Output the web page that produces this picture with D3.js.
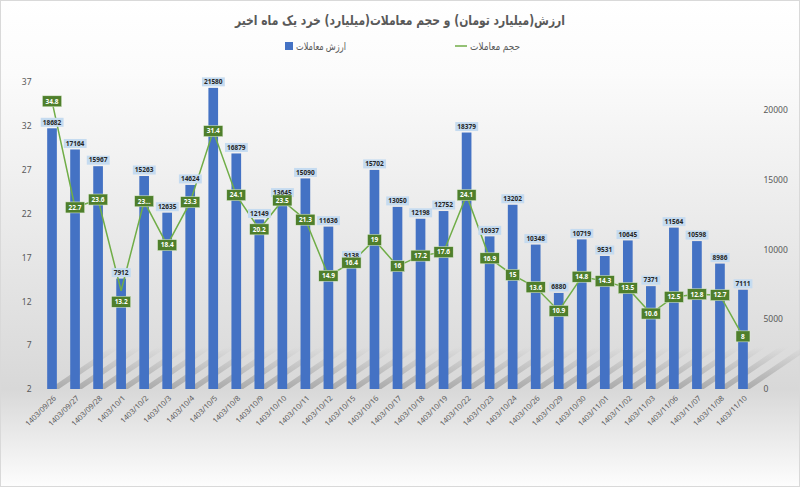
<!DOCTYPE html>
<html>
<head>
<meta charset="utf-8">
<script src="https://cdn.jsdelivr.net/npm/d3@7"></script>
<style>
  html, body { margin: 0; padding: 0; background: #fff; }
  svg { display: block; }
  text { font-family: 'Noto Sans', 'DejaVu Sans', sans-serif; }
</style>
</head>
<body>
<div id="chart"></div>
<script>
// categories (Jalali dates)
const dates = ['1403/09/26','1403/09/27','1403/09/28','1403/10/1','1403/10/2','1403/10/3','1403/10/4','1403/10/5',
  '1403/10/8','1403/10/9','1403/10/10','1403/10/11','1403/10/12','1403/10/15','1403/10/16','1403/10/17','1403/10/18',
  '1403/10/19','1403/10/22','1403/10/23','1403/10/24','1403/10/26','1403/10/29','1403/10/30','1403/11/01','1403/11/02',
  '1403/11/03','1403/11/06','1403/11/07','1403/11/08','1403/11/10'];

// ارزش معاملات (bars, right axis)
const tradeValue = [18682,17164,15967,7912,15263,12635,14624,21580,16879,12149,13645,15090,11636,9138,15702,13050,
  12198,12752,18379,10937,13202,10348,6880,10719,9531,10645,7371,11564,10598,8986,7111];

// حجم معاملات (line, left axis)
const tradeVolume = [34.8,22.7,23.6,13.2,23.4,18.4,23.3,31.4,24.1,20.2,23.5,21.3,14.9,16.4,19,16,17.2,17.6,24.1,
  16.9,15,13.6,10.9,14.8,14.3,13.5,10.6,12.5,12.8,12.7,8];

const leftTicks = [2,7,12,17,22,27,32,37];
const rightTicks = [0,5000,10000,15000,20000];

const titleText = 'ارزش(میلیارد تومان) و حجم معاملات(میلیارد) خرد یک ماه اخیر';
const barName = 'ارزش معاملات';
const lineName = 'حجم معاملات';

const W = 800, H = 487;
const plot = { left: 40.5, right: 754.5, top: 82, bottom: 389 };
const grey = '#595959';

const svg = d3.select('#chart').append('svg').attr('width', W).attr('height', H);
const defs = svg.append('defs');

const bg = defs.append('linearGradient').attr('id', 'bg').attr('x1', 0).attr('y1', 0).attr('x2', 0).attr('y2', 1);
bg.append('stop').attr('offset', '0%').attr('stop-color', '#ffffff');
bg.append('stop').attr('offset', '15%').attr('stop-color', '#fbfbfb');
bg.append('stop').attr('offset', '80%').attr('stop-color', '#d8d8d8');
bg.append('stop').attr('offset', '100%').attr('stop-color', '#fdfdfd');

const sh = defs.append('linearGradient').attr('id', 'shadow').attr('x1', 0).attr('y1', 1).attr('x2', 0).attr('y2', 0);
sh.append('stop').attr('offset', '0%').attr('stop-color', '#7f7f7f').attr('stop-opacity', 0.5);
sh.append('stop').attr('offset', '100%').attr('stop-color', '#7f7f7f').attr('stop-opacity', 0.0);

svg.append('rect').attr('x', 0.5).attr('y', 0.5).attr('width', W - 1).attr('height', H - 1)
  .attr('fill', 'url(#bg)').attr('stroke', '#d9d9d9');

const x = d3.scaleBand().domain(dates).range([plot.left, plot.right]).paddingInner(0.58).paddingOuter(0.29);
const yL = d3.scaleLinear().domain([2, 37]).range([plot.bottom, plot.top]);
const yR = d3.scaleLinear().domain([0, 22000]).range([plot.bottom, plot.top]);
const cx = d => x(d) + x.bandwidth() / 2;

// title
svg.append('text')
  .attr('x', W / 2).attr('y', 25)
  .attr('text-anchor', 'middle').attr('direction', 'rtl')
  .attr('textLength', 330).attr('lengthAdjust', 'spacingAndGlyphs')
  .style('font-family', 'DejaVu Sans').style('font-size', '13.5px').style('font-weight', 'bold')
  .attr('fill', grey).text(titleText);

// legend
const lg = svg.append('g').style('font-family', 'DejaVu Sans').style('font-size', '10.5px').attr('fill', grey);
lg.append('line').attr('x1', 455).attr('x2', 467).attr('y1', 46).attr('y2', 46).attr('stroke', '#70ad47').attr('stroke-width', 1.5);
lg.append('text').attr('x', 520).attr('y', 50).attr('text-anchor', 'end').attr('direction', 'ltr')
  .attr('textLength', 50).attr('lengthAdjust', 'spacingAndGlyphs').text(lineName);
lg.append('rect').attr('x', 285).attr('y', 42).attr('width', 8).attr('height', 8).attr('fill', '#4472c4');
lg.append('text').attr('x', 346).attr('y', 50).attr('text-anchor', 'end').attr('direction', 'ltr')
  .attr('textLength', 50).attr('lengthAdjust', 'spacingAndGlyphs').text(barName);

// axes (no lines, only labels)
const axL = svg.append('g').attr('transform', `translate(${plot.left - 9},0)`)
  .call(d3.axisLeft(yL).tickValues(leftTicks).tickSize(0).tickPadding(0));
const axR = svg.append('g').attr('transform', `translate(${plot.right + 9},0)`)
  .call(d3.axisRight(yR).tickValues(rightTicks).tickFormat(d3.format('d')).tickSize(0).tickPadding(0));
[axL, axR].forEach(a => {
  a.select('.domain').remove();
  a.selectAll('text').attr('fill', grey).style('font-size', '8.5px').style('font-family', 'Noto Sans');
});

const axB = svg.append('g').attr('transform', `translate(0,${plot.bottom})`)
  .call(d3.axisBottom(x).tickSize(0).tickPadding(0));
axB.select('.domain').remove();
axB.selectAll('text')
  .attr('fill', grey).style('font-size', '7.5px').style('font-family', 'Noto Sans')
  .attr('text-anchor', 'end').attr('dy', '0.3em')
  .attr('transform', 'translate(3,8) rotate(-45)');

// bar shadows
svg.append('g').selectAll('path').data(dates).join('path')
  .attr('d', d => {
    const x0 = x(d) + 2, x1 = x(d) + x.bandwidth() + 2, dx = 62, dy = 42;
    return `M${x0},${plot.bottom}L${x1},${plot.bottom}L${x1 + dx},${plot.bottom - dy}L${x0 + dx},${plot.bottom - dy}Z`;
  })
  .attr('fill', 'url(#shadow)');

// bars
svg.append('g').selectAll('rect').data(dates).join('rect')
  .attr('x', d => x(d)).attr('width', x.bandwidth())
  .attr('y', (d, i) => yR(tradeValue[i]))
  .attr('height', (d, i) => plot.bottom - yR(tradeValue[i]))
  .attr('fill', '#4472c4');

// line
const line = d3.line().x((d, i) => cx(dates[i])).y(d => yL(d));
svg.append('path').datum(tradeVolume).attr('d', line)
  .attr('fill', 'none').attr('stroke', '#70ad47').attr('stroke-width', 1.5);

// bar labels
const bl = svg.append('g').selectAll('g').data(dates).join('g')
  .attr('transform', (d, i) => `translate(${cx(d)},${yR(tradeValue[i]) - 6})`);
bl.append('text')
  .attr('text-anchor', 'middle').attr('dy', '0.35em')
  .style('font-size', '6.5px').style('font-weight', 'bold').attr('fill', '#262626')
  .text((d, i) => tradeValue[i]);
bl.each(function () {
  const g = d3.select(this);
  const b = g.select('text').node().getBBox();
  g.insert('rect', 'text').attr('x', b.x - 2).attr('y', -4.5).attr('width', b.width + 4).attr('height', 9)
    .attr('fill', '#c5dbf0');
});

// line labels
const ll = svg.append('g').selectAll('g').data(tradeVolume).join('g')
  .attr('transform', (d, i) => `translate(${cx(dates[i])},${yL(d) + (i === 3 ? 11 : 0)})`);
ll.append('text')
  .attr('text-anchor', 'middle').attr('dy', '0.35em')
  .style('font-size', '6.5px').style('font-weight', 'bold').attr('fill', '#ffffff')
  .text((d, i) => i === 4 ? '23...' : d);
ll.each(function () {
  const g = d3.select(this);
  const b = g.select('text').node().getBBox();
  const w = Math.max(b.width + 6, 14);
  g.insert('rect', 'text').attr('x', -w / 2).attr('y', -5.5).attr('width', w).attr('height', 11)
    .attr('fill', '#4f7f2c').attr('stroke', '#e2efd9').attr('stroke-width', 0.5);
});
</script>
</body>
</html>
